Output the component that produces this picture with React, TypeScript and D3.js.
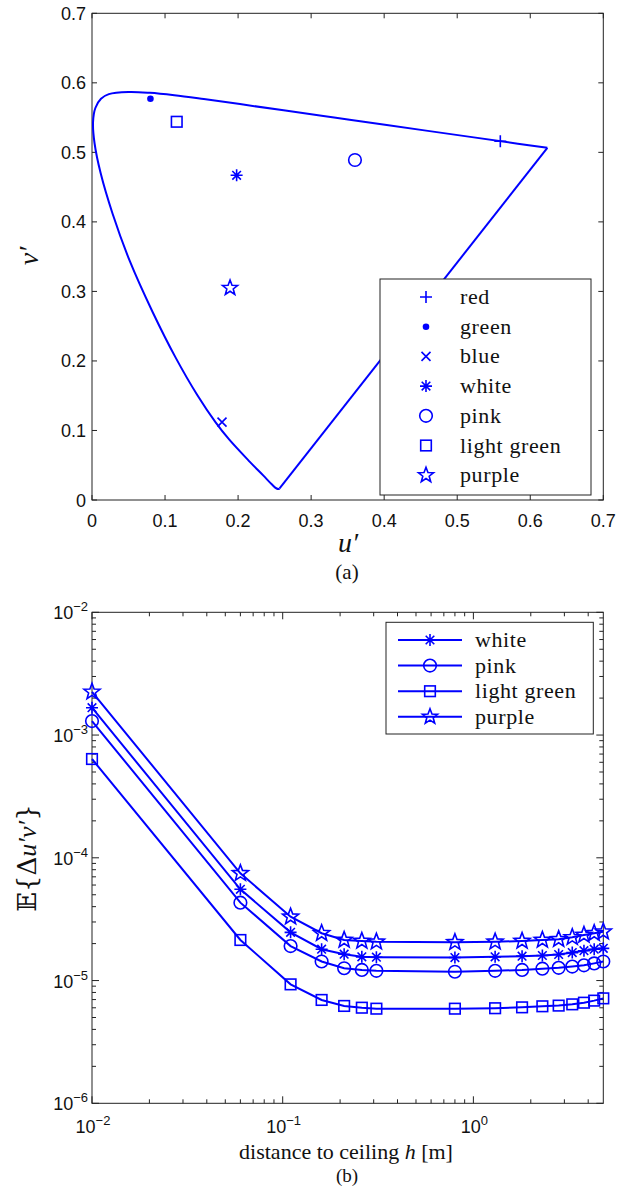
import React from 'react';
import * as d3 from 'd3';

const W = 618;
const H = 1187;
const BLUE = '#0000ff';
const AXC = '#222';

// ---- Chart (a): CIE 1976 u'v' spectral locus and LED colour points
const locusU = [0.2568, 0.2557, 0.2522, 0.2461, 0.2347, 0.2161, 0.1877, 0.169, 0.1441, 0.1147, 0.0828, 0.0521, 0.0282, 0.0119, 0.0035, 0.0014, 0.0046, 0.0123, 0.0231, 0.0501, 0.0792, 0.1127, 0.1531, 0.2026, 0.2623, 0.3315, 0.4035, 0.5203, 0.583, 0.6234];
const locusV = [0.0166, 0.0159, 0.0169, 0.0226, 0.035, 0.0549, 0.0871, 0.112, 0.151, 0.2044, 0.2708, 0.3427, 0.4117, 0.4698, 0.5131, 0.5432, 0.5638, 0.577, 0.5837, 0.5868, 0.5856, 0.5821, 0.5766, 0.5694, 0.5604, 0.5501, 0.5393, 0.5219, 0.5125, 0.5065];

const pointNames = ['red', 'green', 'blue', 'white', 'pink', 'light green', 'purple'];
const pointMarkers = ['plus', 'dot', 'x', 'asterisk', 'circle', 'square', 'star'];
const pointU = [0.559, 0.08, 0.178, 0.198, 0.36, 0.116, 0.189];
const pointV = [0.516, 0.577, 0.112, 0.467, 0.489, 0.544, 0.305];
const ticksA = [0, 0.1, 0.2, 0.3, 0.4, 0.5, 0.6, 0.7];

// ---- Chart (b): E{Δu'v'} vs distance to ceiling
const distances = [0.01, 0.06, 0.11, 0.16, 0.21, 0.26, 0.31, 0.8, 1.3, 1.8, 2.3, 2.8, 3.3, 3.8, 4.3, 4.8];
const whiteErr = [1.67e-3, 5.54e-5, 2.47e-5, 1.8e-5, 1.64e-5, 1.56e-5, 1.55e-5, 1.54e-5, 1.56e-5, 1.58e-5, 1.6e-5, 1.63e-5, 1.69e-5, 1.75e-5, 1.8e-5, 1.83e-5];
const pinkErr = [1.3e-3, 4.31e-5, 1.91e-5, 1.43e-5, 1.26e-5, 1.22e-5, 1.2e-5, 1.18e-5, 1.2e-5, 1.22e-5, 1.25e-5, 1.27e-5, 1.3e-5, 1.33e-5, 1.38e-5, 1.43e-5];
const lightGreenErr = [6.38e-4, 2.14e-5, 9.31e-6, 6.95e-6, 6.21e-6, 6.01e-6, 5.9e-6, 5.9e-6, 5.95e-6, 6.05e-6, 6.17e-6, 6.25e-6, 6.4e-6, 6.6e-6, 6.86e-6, 7.16e-6];
const purpleErr = [2.25e-3, 7.48e-5, 3.31e-5, 2.43e-5, 2.14e-5, 2.1e-5, 2.07e-5, 2.05e-5, 2.07e-5, 2.1e-5, 2.14e-5, 2.17e-5, 2.25e-5, 2.35e-5, 2.43e-5, 2.5e-5];
const seriesNames = ['white', 'pink', 'light green', 'purple'];
const seriesMarkers = ['asterisk', 'circle', 'square', 'star'];
const seriesValues = [whiteErr, pinkErr, lightGreenErr, purpleErr];
const xDecades = [-2, -1, 0];
const yDecades = [-6, -5, -4, -3, -2];

const SERIF = 'Liberation Serif, Times New Roman, serif';
const SANS = 'Liberation Sans, Arial, sans-serif';

function Marker({ type, x, y, big = false }: { type: string; x: number; y: number; big?: boolean }) {
  const sw = 1.6;
  const common = { stroke: BLUE, strokeWidth: sw, fill: 'none' };
  const t = `translate(${x},${y})`;
  switch (type) {
    case 'plus':
      return <path transform={t} d="M-6,0H6M0,-6V6" {...common} />;
    case 'dot':
      return <circle transform={t} r={3.3} fill={BLUE} />;
    case 'x':
      return <path transform={t} d="M-4.5,-4.5L4.5,4.5M-4.5,4.5L4.5,-4.5" {...common} />;
    case 'asterisk': {
      const s = 6, d = 4.3;
      return <path transform={t} d={`M${-s},0H${s}M0,${-s}V${s}M${-d},${-d}L${d},${d}M${-d},${d}L${d},${-d}`} {...common} />;
    }
    case 'circle':
      return <circle transform={t} r={6.3} {...common} />;
    case 'square':
      return <rect transform={t} x={-5.3} y={-5.3} width={10.6} height={10.6} {...common} />;
    case 'star': {
      const R = big ? 8.5 : 8, r = R * 0.42;
      const pts = d3.range(10).map((i) => {
        const a = -Math.PI / 2 + (i * Math.PI) / 5;
        const rr = i % 2 === 0 ? R : r;
        return [rr * Math.cos(a), rr * Math.sin(a)];
      });
      return <path transform={t} d={'M' + pts.map((p) => p.join(',')).join('L') + 'Z'} {...common} />;
    }
  }
  return null;
}

function Pow10({ x, y, e, anchor }: { x: number; y: number; e: number; anchor: string }) {
  return (
    <text x={x} y={y} textAnchor={anchor} fontFamily={SANS} fontSize={18} fill="#111">
      10
      <tspan dy={-8} fontSize={13}>{e < 0 ? '\u2212' + Math.abs(e) : String(e)}</tspan>
    </text>
  );
}

export default function App() {
  // ---------- Chart (a)
  const a = { l: 92, r: 603.3, t: 13.3, b: 500 };
  const xa = d3.scaleLinear().domain([0, 0.7]).range([a.l, a.r]);
  const ya = d3.scaleLinear().domain([0, 0.7]).range([a.b, a.t]);
  const locusPts: [number, number][] = locusU.map((u, i) => [xa(u), ya(locusV[i])]);
  const locusPath = d3.line().curve(d3.curveCatmullRom.alpha(0.5))(locusPts) || '';
  const purpleLine = d3.line()([locusPts[locusPts.length - 1], locusPts[0]]) || '';

  // ---------- Chart (b)
  const b = { l: 92, r: 603.3, t: 612.3, b: 1103.3 };
  const xb = d3.scaleLog().domain([0.01, 4.8]).range([b.l, b.r]);
  const yb = d3.scaleLog().domain([1e-6, 1e-2]).range([b.b, b.t]);
  const lineB = d3.line<number>().x((_, i) => xb(distances[i]));

  const xMinor: number[] = [];
  for (let d = -2; d <= 0; d++) for (let k = 2; k <= 9; k++) { const v = k * Math.pow(10, d); if (v <= 4.8) xMinor.push(v); }
  const yMinor: number[] = [];
  for (let d = -6; d <= -3; d++) for (let k = 2; k <= 9; k++) yMinor.push(k * Math.pow(10, d));

  const tickLen = 5;
  const legA = { x: 380, y: 279, w: 211, h: 216, mx: 426, tx: 460, y0: 297, dy: 29.7 };
  const legB = { x: 386, y: 622.3, w: 207.3, h: 111.7, lx1: 398, lx2: 462, mx: 430, tx: 475, y0: 640, dy: 25.6 };

  return (
    <svg width={W} height={H} style={{ position: 'absolute', left: 0, top: 0, background: '#fff' }}>
      <rect width={W} height={H} fill="#fff" />
      {/* ===== Chart (a) ===== */}
      <g>
        <rect x={a.l} y={a.t} width={a.r - a.l} height={a.b - a.t} fill="none" stroke={AXC} strokeWidth={1} />
        {ticksA.map((v) => (
          <g key={'xa' + v}>
            <line x1={xa(v)} x2={xa(v)} y1={a.b} y2={a.b - tickLen} stroke={AXC} />
            <line x1={xa(v)} x2={xa(v)} y1={a.t} y2={a.t + tickLen} stroke={AXC} />
            <text x={xa(v)} y={a.b + 27} textAnchor="middle" fontFamily={SANS} fontSize={18} fill="#111">{v === 0 ? '0' : v.toFixed(1)}</text>
          </g>
        ))}
        {ticksA.map((v) => (
          <g key={'ya' + v}>
            <line x1={a.l} x2={a.l + tickLen} y1={ya(v)} y2={ya(v)} stroke={AXC} />
            <line x1={a.r} x2={a.r - tickLen} y1={ya(v)} y2={ya(v)} stroke={AXC} />
            <text x={86} y={ya(v) + 6.5} textAnchor="end" fontFamily={SANS} fontSize={18} fill="#111">{v === 0 ? '0' : v.toFixed(1)}</text>
          </g>
        ))}
        <path d={locusPath} fill="none" stroke={BLUE} strokeWidth={2} />
        <path d={purpleLine} fill="none" stroke={BLUE} strokeWidth={2} />
        {pointU.map((u, i) => (
          <Marker key={'pa' + i} type={pointMarkers[i]} x={xa(u)} y={ya(pointV[i])} />
        ))}
        {/* legend */}
        <rect x={legA.x} y={legA.y} width={legA.w} height={legA.h} fill="#fff" stroke={AXC} strokeWidth={1} />
        {pointNames.map((n, i) => (
          <g key={'la' + i}>
            <Marker type={pointMarkers[i]} x={legA.mx} y={legA.y0 + i * legA.dy} />
            <text x={legA.tx} y={legA.y0 + i * legA.dy + 7} fontFamily={SERIF} fontSize={22} letterSpacing={0.6} fill="#111">{n}</text>
          </g>
        ))}
        <text x={348} y={552} textAnchor="middle" fontFamily={SERIF} fontStyle="italic" fontSize={28} fill="#111">u′</text>
        <text transform="translate(38,256) rotate(-90)" textAnchor="middle" fontFamily={SERIF} fontStyle="italic" fontSize={28} fill="#111">v′</text>
        <text x={347} y={579} textAnchor="middle" fontFamily={SERIF} fontSize={21} fill="#111">(a)</text>
      </g>

      {/* ===== Chart (b) ===== */}
      <g>
        <rect x={b.l} y={b.t} width={b.r - b.l} height={b.b - b.t} fill="none" stroke={AXC} strokeWidth={1} />
        {xDecades.map((d) => {
          const x = xb(Math.pow(10, d));
          return (
            <g key={'xb' + d}>
              <line x1={x} x2={x} y1={b.b} y2={b.b - 7} stroke={AXC} />
              <line x1={x} x2={x} y1={b.t} y2={b.t + 7} stroke={AXC} />
              <Pow10 x={x + 1} y={b.b + 30} e={d} anchor="middle" />
            </g>
          );
        })}
        {xMinor.map((v, i) => (
          <g key={'xm' + i}>
            <line x1={xb(v)} x2={xb(v)} y1={b.b} y2={b.b - 4} stroke={AXC} />
            <line x1={xb(v)} x2={xb(v)} y1={b.t} y2={b.t + 4} stroke={AXC} />
          </g>
        ))}
        {yDecades.map((d) => {
          const y = yb(Math.pow(10, d));
          return (
            <g key={'yb' + d}>
              <line x1={b.l} x2={b.l + 7} y1={y} y2={y} stroke={AXC} />
              <line x1={b.r} x2={b.r - 7} y1={y} y2={y} stroke={AXC} />
              <Pow10 x={88} y={y + 7} e={d} anchor="end" />
            </g>
          );
        })}
        {yMinor.map((v, i) => (
          <g key={'ym' + i}>
            <line x1={b.l} x2={b.l + 4} y1={yb(v)} y2={yb(v)} stroke={AXC} />
            <line x1={b.r} x2={b.r - 4} y1={yb(v)} y2={yb(v)} stroke={AXC} />
          </g>
        ))}
        {seriesValues.map((vals, s) => (
          <g key={'sb' + s}>
            <path d={lineB.y((v) => yb(v))(vals) || ''} fill="none" stroke={BLUE} strokeWidth={2} />
            {vals.map((v, i) => (
              <Marker key={i} type={seriesMarkers[s]} x={xb(distances[i])} y={yb(v)} big />
            ))}
          </g>
        ))}
        {/* legend */}
        <rect x={legB.x} y={legB.y} width={legB.w} height={legB.h} fill="#fff" stroke={AXC} strokeWidth={1} />
        {seriesNames.map((n, i) => {
          const y = legB.y0 + i * legB.dy;
          return (
            <g key={'lb' + i}>
              <line x1={legB.lx1} x2={legB.lx2} y1={y} y2={y} stroke={BLUE} strokeWidth={2} />
              <Marker type={seriesMarkers[i]} x={legB.mx} y={y} />
              <text x={legB.tx} y={y + 7} fontFamily={SERIF} fontSize={22} letterSpacing={0.6} fill="#111">{n}</text>
            </g>
          );
        })}
        <text x={346} y={1159} textAnchor="middle" fontFamily={SERIF} fontSize={22} fill="#111">
          distance to ceiling <tspan fontStyle="italic">h</tspan> [m]
        </text>
        <text x={347} y={1182} textAnchor="middle" fontFamily={SERIF} fontSize={19} fill="#111">(b)</text>
        <text transform="translate(36,858) rotate(-90)" textAnchor="middle" fontFamily="DejaVu Serif, Liberation Serif, serif" fontSize={26} fill="#111">
          𝔼{'{'}Δ<tspan fontStyle="italic" fontFamily={SERIF}>u′v′</tspan>{'}'}
        </text>
      </g>
    </svg>
  );
}
